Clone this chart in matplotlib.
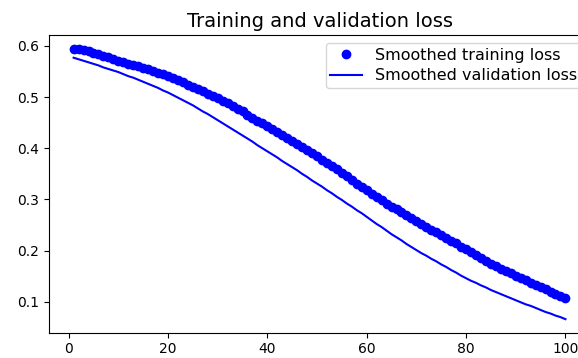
import matplotlib
matplotlib.use('Agg')
import matplotlib.pyplot as plt

# wygładzone straty (epoki 1..100)
train_loss = [
    0.595, 0.594, 0.592, 0.590, 0.587, 0.584, 0.581, 0.578, 0.574, 0.571,
    0.568, 0.565, 0.563, 0.560, 0.557, 0.554, 0.551, 0.548, 0.545, 0.541,
    0.537, 0.533, 0.529, 0.524, 0.520, 0.516, 0.512, 0.507, 0.503, 0.498,
    0.493, 0.488, 0.483, 0.477, 0.472, 0.466, 0.460, 0.454, 0.449, 0.443,
    0.437, 0.431, 0.426, 0.420, 0.415, 0.409, 0.403, 0.397, 0.391, 0.385,
    0.378, 0.372, 0.365, 0.359, 0.352, 0.345, 0.338, 0.331, 0.325, 0.318,
    0.311, 0.305, 0.298, 0.292, 0.286, 0.281, 0.276, 0.270, 0.264, 0.258,
    0.252, 0.247, 0.241, 0.236, 0.230, 0.225, 0.219, 0.214, 0.208, 0.203,
    0.197, 0.191, 0.186, 0.180, 0.174, 0.169, 0.165, 0.160, 0.156, 0.151,
    0.147, 0.142, 0.137, 0.133, 0.128, 0.124, 0.120, 0.115, 0.111, 0.107,
]
val_loss = [
    0.577, 0.574, 0.571, 0.568, 0.565, 0.562, 0.558, 0.555, 0.552, 0.549,
    0.545, 0.541, 0.538, 0.534, 0.530, 0.526, 0.522, 0.518, 0.513, 0.509,
    0.504, 0.499, 0.494, 0.489, 0.484, 0.478, 0.472, 0.467, 0.461, 0.455,
    0.449, 0.443, 0.437, 0.431, 0.425, 0.419, 0.413, 0.406, 0.400, 0.394,
    0.388, 0.382, 0.375, 0.369, 0.363, 0.357, 0.350, 0.344, 0.337, 0.331,
    0.325, 0.318, 0.312, 0.305, 0.299, 0.292, 0.286, 0.279, 0.273, 0.266,
    0.259, 0.252, 0.246, 0.239, 0.232, 0.226, 0.220, 0.213, 0.207, 0.201,
    0.195, 0.190, 0.184, 0.179, 0.173, 0.168, 0.162, 0.157, 0.151, 0.146,
    0.141, 0.137, 0.132, 0.128, 0.123, 0.119, 0.115, 0.111, 0.107, 0.103,
    0.099, 0.095, 0.092, 0.088, 0.084, 0.080, 0.077, 0.073, 0.070, 0.066,
]
epochs = list(range(1, len(train_loss) + 1))

fig = plt.figure(figsize=(5.78, 3.58), dpi=100)
# oś wychodzi poza prawą krawędź (obraz był przycięty)
ax = fig.add_axes([0.0848, 0.0707, 0.936, 0.8316])

ax.plot(epochs, train_loss, 'bo', label='Smoothed training loss')
ax.plot(epochs, val_loss, 'b', label='Smoothed validation loss')
ax.set_title('Training and validation loss', fontsize=14)
ax.legend(loc='upper right', fontsize=11.5, labelspacing=0.35, borderpad=0.3)

fig.savefig('out.png', dpi=100)
